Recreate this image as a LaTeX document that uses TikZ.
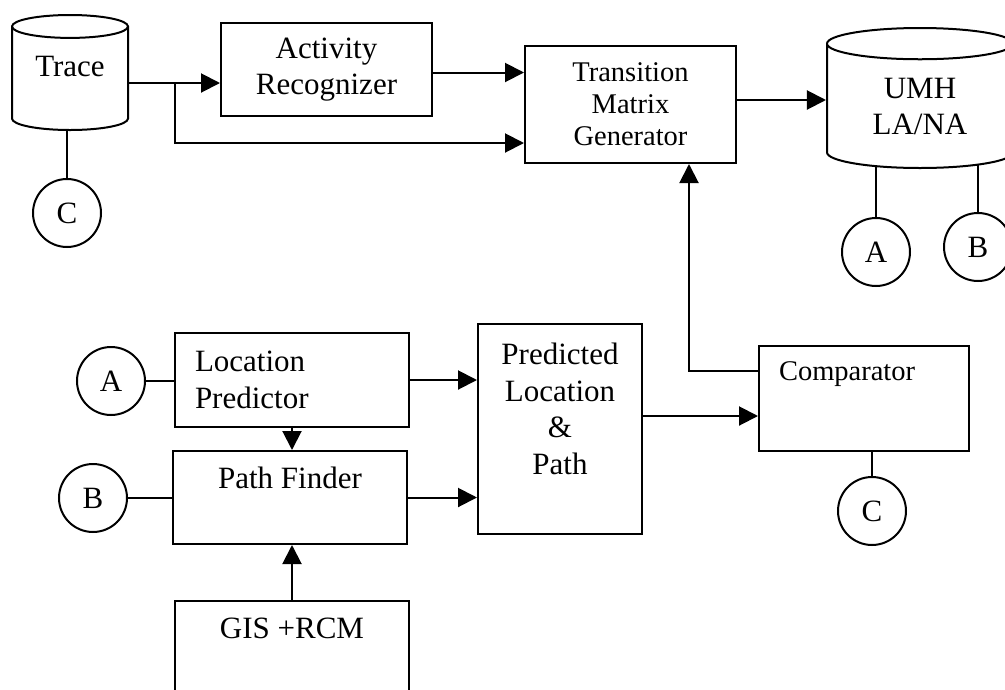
\documentclass[tikz,border=0pt]{standalone}
\usepackage{fontspec}
\setmainfont{Liberation Serif}
\usetikzlibrary{positioning,arrows.meta,shapes.geometric,backgrounds}

\begin{document}
\begin{tikzpicture}[x=1pt, y=-1pt, line width=2pt,
  big/.style={font=\fontsize{31}{36.5}\selectfont},
  small/.style={font=\fontsize{28.5}{32}\selectfont},
  box/.style={draw, rectangle, inner sep=0pt},
  db/.style={draw, fill=white, cylinder, shape border rotate=90, aspect=0.33, anchor=shape center, inner sep=0pt, big, align=center},
  disc/.style={draw, circle, minimum size=68pt, inner sep=0pt, big},
  txt/.style={inner sep=0pt, big, align=center},
  stub/.style={draw, line width=2pt},
  arr/.style={-{Triangle[length=19pt, width=19pt]}}]
\useasboundingbox (0,0) rectangle (1005,689);
\clip (0,0) rectangle (1005,689);

% upper row
\node[db, text depth=25pt, minimum width=116pt, minimum height=115pt] (trace) at (70,72.5) {Trace};
\node[box, big, minimum width=211pt, minimum height=93pt, align=center] (actrec) at (326.5,69.5) {Activity\\Recognizer};
\node[box, small, minimum width=211pt, minimum height=117pt, align=center] (tmg) at (630.5,104.5) {Transition\\Matrix\\Generator};
\node[db, minimum width=186pt, minimum height=140pt] (umh) at (920,98) {UMH\\LA/NA};
\node[disc] (cTrace) at (67,213) {C};
\node[disc] (aUmh) at (876,252) {A};
\node[disc] (bUmh) at (978,247) {B};

% lower part, texts sit in their boxes
\node[box, minimum width=234pt, minimum height=94pt] (lp) at (292,380) {};
\node[txt, align=left, anchor=west] (lptext) at ([xshift=20pt]lp.west) {Location\\Predictor};
\node[box, minimum width=234pt, minimum height=93pt] (pf) at (290,497.5) {};
\node[txt, below=16pt of pf.north] (pftext) {Path Finder};
\node[box, minimum width=234pt, minimum height=110pt] (gis) at (292,656) {};
\node[txt, below=17pt of gis.north] (gistext) {GIS +RCM};
\node[box, minimum width=164pt, minimum height=210pt] (plp) at (560,429) {};
\node[txt, below=19pt of plp.north] (plptext) {Predicted\\Location\\\&\\Path};
\node[box, minimum width=210pt, minimum height=105pt] (comp) at (864,398.5) {};
\node[txt, small, anchor=north west] (comptext) at ([xshift=20pt, yshift=-16pt]comp.north west) {Comparator};
\node[disc] (aLp) at (111,381) {A};
\node[disc] (bPf) at (93,498) {B};
\node[disc] (cComp) at (872,511) {C};

% trace splits to both boxes
\coordinate (fork) at (175,83);
\draw (trace.east |- fork) -- (fork);
\draw[arr] (fork) -- (fork -| actrec.west);
\draw[arr] (fork) |- ([yshift=-38.5pt]tmg.west);
\draw[arr] ([yshift=-3pt]actrec.east) coordinate (ar) -- (ar -| tmg.west);
\draw[arr] ([yshift=4.5pt]tmg.east) coordinate (tu) -- (tu -| umh.west);
\draw (cTrace.north) -- (cTrace.north |- trace.south);
\begin{scope}[on background layer]
\path[stub] (aUmh.north) -- (aUmh.north |- umh.shape center);
\path[stub] (bUmh.north) -- (bUmh.north |- umh.shape center);
\end{scope}

% feedback from the comparator
\draw[arr] ([yshift=27.5pt]comp.west) -| ([xshift=58.5pt]tmg.south);
\draw (cComp.north) -- (cComp.north |- comp.south);
\draw[arr] ([yshift=13pt]plp.east) coordinate (pc) -- (pc -| comp.west);
\draw[arr] (lp.east) -- (lp.east -| plp.west);
\draw[arr] (pf.east) -- (pf.east -| plp.west);
\draw[arr] (lp.south) -- (lp.south |- pf.north);
\draw[arr] (gis.north) -- (gis.north |- pf.south);
\draw (aLp.east) -- (aLp.east -| lp.west);
\draw (bPf.east) -- (bPf.east -| pf.west);
\end{tikzpicture}
\end{document}
